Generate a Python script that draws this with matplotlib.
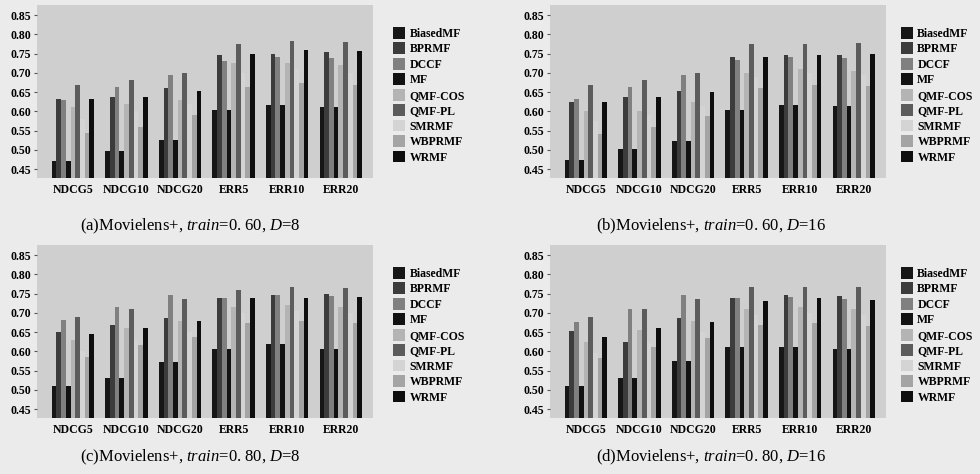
import numpy as np
from matplotlib import pyplot as plt

plt.rcParams['font.family'] = ['Liberation Serif', 'Noto Sans CJK SC']
plt.rcParams['mathtext.fontset'] = 'custom'
plt.rcParams['mathtext.it'] = 'Liberation Serif:italic'
plt.rcParams['mathtext.rm'] = 'Liberation Serif'

metrics = ['NDCG5', 'NDCG10', 'NDCG20', 'ERR5', 'ERR10', 'ERR20']
methods = ['BiasedMF', 'BPRMF', 'DCCF', 'MF', 'QMF-COS', 'QMF-PL', 'SMRMF', 'WBPRMF', 'WRMF']
colors = ['#161616', '#3c3c3c', '#808080', '#121212', '#b4b4b4', '#5c5c5c', '#d4d4d4', '#a4a4a4', '#0e0e0e']

# (a) train=0.60, D=8
vals_a = {
    'BiasedMF': [0.472, 0.497, 0.526, 0.604, 0.617, 0.612],
    'BPRMF':    [0.632, 0.638, 0.660, 0.746, 0.750, 0.755],
    'DCCF':     [0.630, 0.664, 0.694, 0.731, 0.740, 0.738],
    'MF':       [0.472, 0.497, 0.526, 0.604, 0.617, 0.612],
    'QMF-COS':  [0.610, 0.620, 0.630, 0.725, 0.725, 0.720],
    'QMF-PL':   [0.668, 0.681, 0.700, 0.775, 0.782, 0.780],
    'SMRMF':    [0.580, 0.600, 0.620, 0.700, 0.710, 0.700],
    'WBPRMF':   [0.543, 0.560, 0.590, 0.662, 0.673, 0.668],
    'WRMF':     [0.632, 0.638, 0.652, 0.750, 0.759, 0.757],
}
# (b) train=0.60, D=16
vals_b = {
    'BiasedMF': [0.474, 0.503, 0.524, 0.604, 0.617, 0.614],
    'BPRMF':    [0.623, 0.638, 0.653, 0.740, 0.746, 0.746],
    'DCCF':     [0.631, 0.664, 0.694, 0.733, 0.740, 0.738],
    'MF':       [0.474, 0.503, 0.524, 0.604, 0.617, 0.614],
    'QMF-COS':  [0.600, 0.600, 0.625, 0.700, 0.710, 0.705],
    'QMF-PL':   [0.668, 0.681, 0.700, 0.774, 0.775, 0.777],
    'SMRMF':    [0.575, 0.590, 0.615, 0.690, 0.700, 0.695],
    'WBPRMF':   [0.540, 0.560, 0.588, 0.660, 0.668, 0.666],
    'WRMF':     [0.625, 0.638, 0.649, 0.740, 0.746, 0.749],
}
# (c) train=0.80, D=8
vals_c = {
    'BiasedMF': [0.509, 0.530, 0.572, 0.605, 0.618, 0.605],
    'BPRMF':    [0.651, 0.668, 0.686, 0.738, 0.746, 0.750],
    'DCCF':     [0.681, 0.716, 0.746, 0.738, 0.746, 0.744],
    'MF':       [0.509, 0.530, 0.572, 0.605, 0.618, 0.605],
    'QMF-COS':  [0.630, 0.660, 0.680, 0.715, 0.720, 0.715],
    'QMF-PL':   [0.688, 0.710, 0.735, 0.759, 0.768, 0.765],
    'SMRMF':    [0.600, 0.630, 0.650, 0.700, 0.705, 0.700],
    'WBPRMF':   [0.586, 0.617, 0.638, 0.674, 0.680, 0.673],
    'WRMF':     [0.645, 0.660, 0.679, 0.738, 0.739, 0.742],
}
# (d) train=0.80, D=16
vals_d = {
    'BiasedMF': [0.509, 0.530, 0.574, 0.611, 0.611, 0.605],
    'BPRMF':    [0.653, 0.625, 0.687, 0.738, 0.746, 0.744],
    'DCCF':     [0.675, 0.710, 0.746, 0.738, 0.740, 0.735],
    'MF':       [0.509, 0.530, 0.574, 0.611, 0.611, 0.605],
    'QMF-COS':  [0.625, 0.655, 0.680, 0.710, 0.715, 0.710],
    'QMF-PL':   [0.688, 0.710, 0.735, 0.768, 0.768, 0.766],
    'SMRMF':    [0.595, 0.625, 0.650, 0.695, 0.700, 0.695],
    'WBPRMF':   [0.582, 0.612, 0.634, 0.668, 0.674, 0.666],
    'WRMF':     [0.638, 0.660, 0.677, 0.731, 0.739, 0.733],
}

captions = [r'(a)Movielens+, $\it{train}$=0. 60, $\it{D}$=8',
            r'(b)Movielens+, $\it{train}$=0. 60, $\it{D}$=16',
            r'(c)Movielens+, $\it{train}$=0. 80, $\it{D}$=8',
            r'(d)Movielens+, $\it{train}$=0. 80, $\it{D}$=16']

fig = plt.figure(figsize=(9.8, 4.74), dpi=100, facecolor='#ebebeb')
W, H = 980, 474
boxes = [(37, 5), (550, 5), (37, 245), (550, 245)]
leg_x = [1.045, 1.03, 1.045, 1.03]
cap_pos = [(190, 226), (711, 226), (190, 457), (711, 457)]
aw, ah = 336, 173
bw = 0.088
x = np.arange(len(metrics))

for i, vals in enumerate([vals_a, vals_b, vals_c, vals_d]):
    x0, y0 = boxes[i]
    ax = fig.add_axes([x0 / W, 1 - (y0 + ah) / H, aw / W, ah / H])
    ax.set_facecolor('#cfcfcf')
    for j, m in enumerate(methods):
        ax.bar(x + (j - 4) * bw, vals[m], width=bw, color=colors[j], label=m, zorder=2)
    ax.set_ylim(0.427, 0.876)
    ax.set_xlim(-0.67, 5.6)
    ax.set_yticks(np.arange(0.45, 0.851, 0.05))
    ax.set_yticklabels(['%.2f' % v for v in np.arange(0.45, 0.851, 0.05)],
                       fontsize=8.5, fontweight='bold')
    ax.set_xticks(x)
    ax.set_xticklabels(metrics, fontsize=8.5, fontweight='bold')
    ax.tick_params(axis='x', length=0, pad=4)
    ax.tick_params(axis='y', length=2.5, width=0.8, pad=2, color='#555555')
    for s in ax.spines.values():
        s.set_visible(False)
    ax.legend(loc='upper left', bbox_to_anchor=(leg_x[i], 0.9), frameon=False,
              prop={'size': 8.5, 'weight': 'bold'}, handlelength=1.0, handleheight=1.15,
              handletextpad=0.4, labelspacing=0.22, borderaxespad=0)
    fig.text(cap_pos[i][0] / W, 1 - cap_pos[i][1] / H, captions[i],
             ha='center', va='center', fontsize=12)

fig.savefig('out.png', dpi=100, facecolor=fig.get_facecolor())
